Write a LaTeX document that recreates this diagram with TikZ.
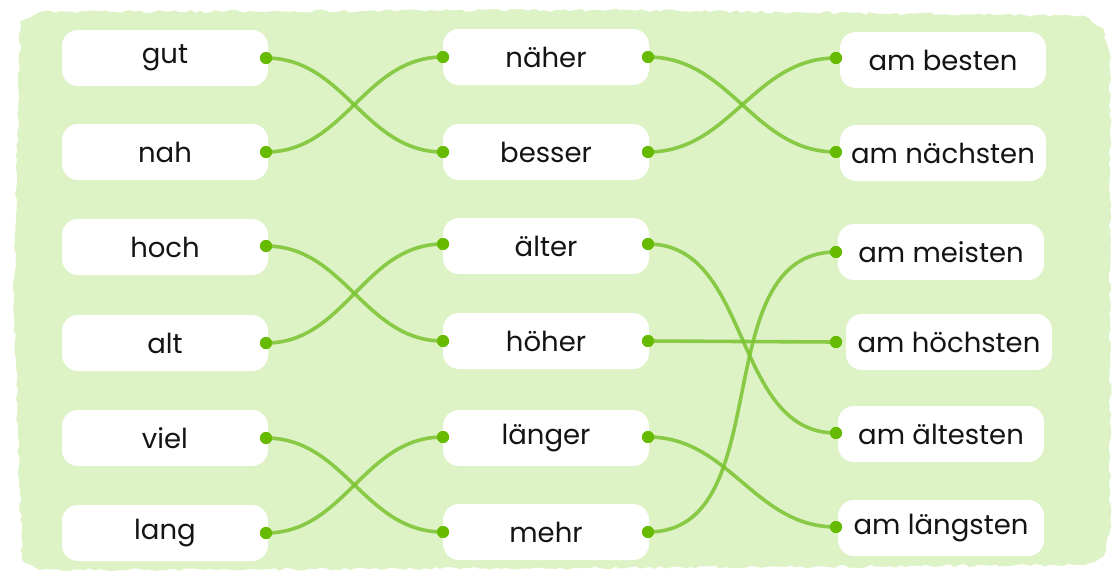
\documentclass[tikz,border=0pt]{standalone}
\usepackage{fontspec}
\setmainfont{Poppins}
\usetikzlibrary{decorations.pathmorphing}
\definecolor{bggreen}{RGB}{221,242,197}
\definecolor{linegreen}{RGB}{122,196,48}
\definecolor{dotgreen}{RGB}{102,187,0}
\definecolor{txt}{RGB}{20,20,20}
\tikzset{
  wbox/.style={fill=white, rounded corners=16pt, minimum height=56pt, minimum width=206pt, inner xsep=9pt, text=txt, font=\fontsize{27.5}{32}\selectfont},
  gdot/.style={circle, fill=dotgreen, inner sep=0pt, minimum size=12pt},
  link/.style={draw=linegreen, line width=3.6pt, opacity=0.85, line cap=round},
}
\begin{document}
\begin{tikzpicture}[x=1pt,y=-1pt]
\pgfmathsetseed{7}
\useasboundingbox (0,0) rectangle (1117,576);
% background
\fill[bggreen, decorate, decoration={random steps, segment length=5pt, amplitude=1.5pt}]
  (20,22) -- (40,12) -- (600,10) -- (1085,16) -- (1103,28) -- (1110,60) -- (1110,530)
  -- (1104,556) -- (1085,565) -- (600,568) -- (40,570) -- (22,560) -- (14,300) -- cycle;
% left column
\node[wbox] (gut)  at (165,58)  {gut};
\node[wbox] (nah)  at (165,152) {nah};
\node[wbox] (hoch) at (165,247) {hoch};
\node[wbox] (alt)  at (165,343) {alt};
\node[wbox] (viel) at (165,438) {viel};
\node[wbox] (lang) at (165,533) {lang};
% middle column
\node[wbox] (naeher)  at (546,57)  {näher};
\node[wbox] (besser)  at (546,152) {besser};
\node[wbox] (aelter)  at (546,246) {älter};
\node[wbox] (hoeher)  at (546,341) {höher};
\node[wbox] (laenger) at (546,438) {länger};
\node[wbox] (mehr)    at (546,532) {mehr};
% right column
\node[wbox] (besten)   at (943,60)  {am besten};
\node[wbox] (naechsten) at (943,153) {am nächsten};
\node[wbox] (meisten)  at (941,252) {am meisten};
\node[wbox] (hoechsten) at (949,342) {am höchsten};
\node[wbox] (aeltesten) at (941,434) {am ältesten};
\node[wbox] (laengsten) at (941,528) {am längsten};
% dots
\foreach \n/\y in {gut/58,nah/152,hoch/246,alt/343,viel/438,lang/533}
  \node[gdot] (\n R) at (266,\y) {};
\foreach \n/\y in {naeher/57,besser/152,aelter/244,hoeher/341,laenger/437,mehr/532}{
  \node[gdot] (\n L) at (443,\y) {};
  \node[gdot] (\n R) at (648,\y) {};
}
\foreach \n/\y in {besten/58,naechsten/152,meisten/252,hoechsten/342,aeltesten/433,laengsten/527}
  \node[gdot] (\n L) at (836,\y) {};
% links
\draw[link] (gutR.center) to[out=0,in=180] (besserL.center);
\draw[link] (nahR.center) to[out=0,in=180] (naeherL.center);
\draw[link] (hochR.center) to[out=0,in=180] (hoeherL.center);
\draw[link] (altR.center) to[out=0,in=180] (aelterL.center);
\draw[link] (vielR.center) to[out=0,in=180] (mehrL.center);
\draw[link] (langR.center) to[out=0,in=180] (laengerL.center);
\draw[link] (naeherR.center) to[out=0,in=180] (naechstenL.center);
\draw[link] (besserR.center) to[out=0,in=180] (bestenL.center);
\draw[link] (aelterR.center) to[out=0,in=180] (aeltestenL.center);
\draw[link] (hoeherR.center) -- (hoechstenL.center);
\draw[link] (laengerR.center) to[out=0,in=180] (laengstenL.center);
\draw[link] (mehrR.center) to[out=0,in=180] (meistenL.center);
% redraw dots on top
\foreach \n in {gut,nah,hoch,alt,viel,lang,naeher,besser,aelter,hoeher,laenger,mehr}
  \fill[dotgreen] (\n R) circle (6pt);
\foreach \n in {naeher,besser,aelter,hoeher,laenger,mehr,besten,naechsten,meisten,hoechsten,aeltesten,laengsten}
  \fill[dotgreen] (\n L) circle (6pt);
\end{tikzpicture}
\end{document}
